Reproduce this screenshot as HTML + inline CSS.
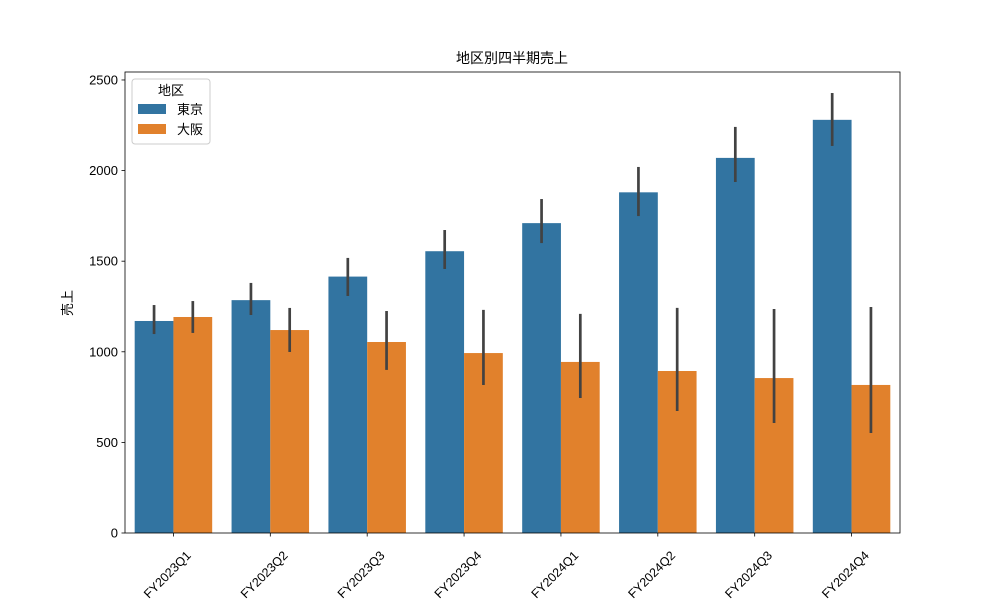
<!DOCTYPE html>
<html><head><meta charset="utf-8"><style>
html,body{margin:0;padding:0;background:#fff;}
svg text{font-family:"Liberation Sans","Noto Sans CJK JP",sans-serif;fill:#000;}
</style></head><body>
<svg id="chart" width="1000" height="600" xmlns="http://www.w3.org/2000/svg">
<rect width="1000" height="600" fill="#fff"/>
<text x="512" y="63" font-size="14" text-anchor="middle">地区別四半期売上</text>
<text transform="translate(72,303) rotate(-90)" font-size="13" text-anchor="middle">売上</text>
<g id="plot"></g>
</svg>
<script>
const categories=["FY2023Q1","FY2023Q2","FY2023Q3","FY2023Q4","FY2024Q1","FY2024Q2","FY2024Q3","FY2024Q4"];
const seriesNames=["東京","大阪"];
const tokyo=[1170,1285,1415,1555,1710,1880,2070,2280];
const tokyoLow=[1098,1203,1308,1457,1600,1749,1937,2136];
const tokyoHigh=[1258,1380,1518,1672,1843,2020,2241,2428];
const osaka=[1192,1120,1054,993,944,894,855,817];
const osakaLow=[1104,999,900,817,745,673,607,552];
const osakaHigh=[1280,1242,1225,1231,1209,1242,1236,1247];
const yTicks=[0,500,1000,1500,2000,2500];
const colors=["#3274a1","#e1812c"];

const L=125,R=900,T=72,B=533,YMAX=2544;
const NS="http://www.w3.org/2000/svg";
const g=document.getElementById('plot');
function y(v){return B-(v/YMAX)*(B-T);}
function xBand(i){return L+(R-L)/categories.length*i;}
const bw=(R-L)/categories.length;
function mk(tag,attrs,parent){const e=document.createElementNS(NS,tag);for(const k in attrs)e.setAttribute(k,attrs[k]);(parent||g).appendChild(e);return e;}

const series=[[tokyo,tokyoLow,tokyoHigh],[osaka,osakaLow,osakaHigh]];
series.forEach((s,si)=>{
  categories.forEach((c,i)=>{
    const x0=xBand(i)+bw*0.1+si*bw*0.4;
    const r=mk('rect',{x:x0,y:y(s[0][i]),width:bw*0.4,height:B-y(s[0][i]),fill:colors[si]});
    
    
  });
});
series.forEach((s,si)=>{
  categories.forEach((c,i)=>{
    const cx=xBand(i)+bw*0.1+si*bw*0.4+bw*0.2;
    const l=mk('line',{x1:cx,x2:cx,y1:y(s[1][i]),y2:y(s[2][i]),stroke:'#424242','stroke-width':2.7});
    
    
  });
});
const frame=mk('rect',{x:L,y:T,width:R-L,height:B-T,fill:'none',stroke:'#000','stroke-width':0.8});


yTicks.forEach(t=>{
  const tk=mk('line',{x1:L-3.5,x2:L,y1:y(t),y2:y(t),stroke:'#000','stroke-width':0.8});
  
  
  const tx=mk('text',{x:L-7,y:y(t)+4.5,'font-size':13,'text-anchor':'end'});
  tx.textContent=t;
  
  
});
categories.forEach((c,i)=>{
  const cx=xBand(i)+bw/2;
  const tk=mk('line',{x1:cx,x2:cx,y1:B,y2:B+3.5,stroke:'#000','stroke-width':0.8});
  
  
  const tx=mk('text',{transform:`translate(${cx+12},${B+17}) rotate(-45)`,'font-size':12.5,'text-anchor':'end','dominant-baseline':'hanging'});
  tx.textContent=c;
  
  
});
// legend
const lg=mk('g',{});


mk('rect',{x:132,y:79,width:78,height:65,rx:3,fill:'#fff','fill-opacity':0.8,stroke:'#ccc','stroke-width':1},lg);
const lt=mk('text',{x:171,y:95,'font-size':13,'text-anchor':'middle'},lg);
lt.textContent='地区';


seriesNames.forEach((n,si)=>{
  const e=mk('g',{},lg);
  
  
  mk('rect',{x:138,y:104+si*20,width:28,height:10,fill:colors[si]},e);
  const t=mk('text',{x:177,y:114+si*20,'font-size':13},e);
  t.textContent=n;
});
</script>
</body></html>
